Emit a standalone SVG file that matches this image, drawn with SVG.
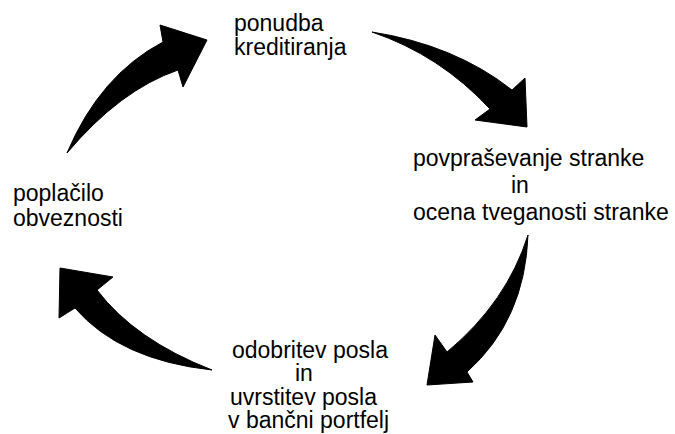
<svg xmlns="http://www.w3.org/2000/svg" width="675" height="434" viewBox="0 0 675 434">
<style>
text { font-family: "Liberation Sans", Arial, sans-serif; font-size: 23px; fill: #000; }
.arrow { fill: #000; stroke: #000; stroke-width: 1; stroke-linejoin: miter; }
</style>
<rect width="675" height="434" fill="#fff"/>
<g id="connectors">
<path class="arrow" d="M 67,153 Q 100,75 163,42 L 160,25 L 207,40 L 183,87 L 178,70 Q 120,90 67,153 Z"/>
<path class="arrow" d="M 372,32 Q 455,45 512,90 L 525,78 L 527,127 L 475,120 L 490,109 Q 440,55 372,32 Z"/>
<path class="arrow" d="M 528,235 Q 525,320 467,372 L 473,382 L 427,385 L 435,335 L 447,352 Q 507,302 528,235 Z"/>
<path class="arrow" d="M 212,370 Q 135,340 97,290 L 113,277 L 60,268 L 59,318 L 75,308 Q 120,360 212,370 Z"/>
</g>
<g id="node-ponudba">
<text x="234" y="31">ponudba</text>
<text x="234" y="55">kreditiranja</text>
</g>
<g id="node-povprasevanje">
<text x="413" y="166">povpraševanje stranke</text>
<text x="511" y="193">in</text>
<text x="413" y="220">ocena tveganosti stranke</text>
</g>
<g id="node-odobritev">
<text x="232" y="358">odobritev posla</text>
<text x="295" y="381">in</text>
<text x="230" y="405">uvrstitev posla</text>
<text x="228" y="428">v bančni portfelj</text>
</g>
<g id="node-poplacilo">
<text x="13" y="201">poplačilo</text>
<text x="13" y="226">obveznosti</text>
</g>
</svg>
